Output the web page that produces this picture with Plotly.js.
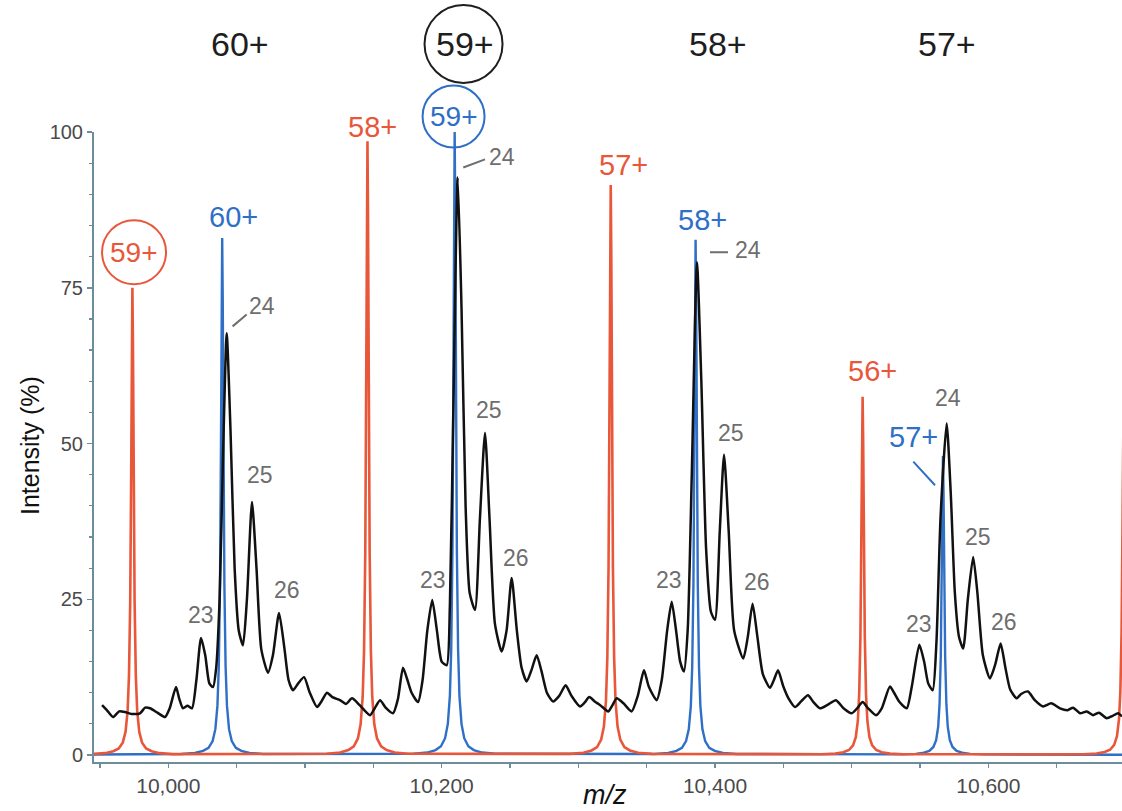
<!DOCTYPE html>
<html><head><meta charset="utf-8">
<script src="https://cdn.plot.ly/plotly-3.0.1.min.js"></script>
<style>html,body{margin:0;padding:0;background:#fff}#chart{width:1122px;height:811px}</style>
</head><body><div id="chart"></div>
<script>
// ---- measured spectrum (black) ----
const spectrumMz = [9951.5,9955,9959.5,9964,9968.3,9973,9979.3,9983,9986.6,9992,9997.6,10001,10005.6,10008,10010.7,10014,10017.3,10020.5,10023.9,10027,10030,10032.7,10035,10037.5,10040,10042.7,10045.5,10048.5,10051.5,10054.6,10057.5,10061.2,10064.5,10068,10072.9,10076.5,10081,10085,10088,10091.2,10095,10099.3,10103.5,10108.8,10112,10116.1,10120,10125.6,10130,10134.4,10140,10147.6,10151,10154.9,10159,10164.4,10168,10171.7,10175,10178,10182.7,10186,10189.5,10193.1,10196.5,10200,10203.7,10206,10208.5,10211.7,10214.5,10217.5,10220.5,10224.4,10228,10231.7,10235,10239,10243.9,10247.5,10251.2,10255,10258.5,10262.2,10265.5,10269.5,10273,10277,10281.5,10286,10290.7,10295,10301.2,10304.5,10308,10312,10316,10321.9,10325,10328.1,10333,10339,10343.5,10348,10351.5,10357.3,10361,10365,10368.3,10371.5,10374.5,10377.3,10380,10383,10386.8,10390,10393.5,10397,10400,10403.5,10406.6,10410,10414,10420.7,10424,10427.5,10431,10435,10440.2,10443,10446.1,10450,10454,10458.5,10463,10468,10472,10476.8,10482,10488.5,10494,10500,10504,10508,10512,10517.8,10522,10528,10531,10535,10540.3,10544,10549.5,10553,10556,10559.3,10562,10565,10569.5,10572.5,10575.5,10578.5,10581.6,10585,10588.9,10592,10596,10601.2,10605,10609,10612.5,10616,10620.7,10624,10629,10634,10640,10646,10652.4,10658,10662,10667.1,10672,10676.6,10681,10686.6,10691,10694.9,10697.8];
const spectrumIntensity = [8.0,7.2,6.1,7.0,6.9,6.6,6.7,7.6,7.5,6.8,6.1,7.5,10.9,9,7.5,7.9,7.5,12,18.8,16,11.5,10.9,14,25,48,67.7,52,30,20,17.6,25,40.6,30,17,13.2,16,22.8,17,12,10.4,11.5,12.5,10,7.7,8.6,10,9.3,8.8,8.2,9.1,8,6.4,7.5,8.8,7.6,6.7,9,14,12,10,8.5,12,20,24.9,20,15,14.4,24,55,92.7,72,40,26,23.3,38,51.7,38,21,16.6,20,28.4,20,14,11.8,13.5,16,13.5,10,8.6,9.5,11.2,9.5,7.8,8.4,9.3,8.6,8,7,8,9.1,8.3,7,9.5,13.6,11,8.8,12,20,24.6,20,15,13.4,20,45,79.1,60,33,23,21.7,36,48.2,36,20,15.5,19,24.3,19,13,10.8,12,13.6,11,9,7.7,8.6,9.6,8.5,7.5,8,8.8,7.5,6.7,7.5,8.5,7.5,6.4,7.5,11,10,8.5,7.5,11,17.7,15,11.5,10.4,18,38,53.2,42,26,19,17.1,25,31.8,26,16,12.3,14.5,17.9,14,10.5,9.1,9.8,10.2,8.8,7.8,8.3,7.5,7.2,7.6,6.7,7,6.4,6.8,5.9,6.3,6.7,6.2];

// ---- simulated charge-state series ----
const redCharges = ['59+','58+','57+','56+','55+'];
const redCenters = [9973.7, 10145.7, 10323.7, 10508.0, 10699.1];
const redHeights = [75, 98.5, 91.5, 57.5, 60];
const blueCharges = ['60+','59+','58+','57+'];
const blueCenters = [10039.4, 10209.5, 10385.8, 10566.8];
const blueHeights = [83, 100, 82.7, 48];
// peak profile (offset in m/z, fraction of peak height)
const peakOffsets = [-30,-20,-14,-10,-7,-5,-3.5,-2.5,-1.6,-0.9,-0.4,0,0.4,0.9,1.6,2.5,3.5,5,7,10,14,20,30];
const peakShape = [0.002,0.004,0.008,0.014,0.027,0.05,0.095,0.17,0.33,0.6,0.88,1,0.88,0.6,0.33,0.17,0.095,0.05,0.027,0.014,0.008,0.004,0.002];

const xRange = [9945.6, 10697.8];
const yRange = [-1.12, 100];
const yTickValues = [0, 25, 50, 75, 100];

function buildPeaks(centers, heights){
  const pts = [];
  centers.forEach((c,i)=>{ peakOffsets.forEach((o,j)=>pts.push([c+o, heights[i]*peakShape[j]])); });
  pts.sort((a,b)=>a[0]-b[0]);
  return {x:[xRange[0]-60, ...pts.map(p=>p[0]), xRange[1]+60], y:[0, ...pts.map(p=>p[1]), 0]};
}
const RED = '#E9573A', BLUE = '#2F6FC6', GRAY = '#6e6e6e', AXIS = '#6d8c9c';
const FONT = 'Liberation Sans, Arial, Helvetica, sans-serif';

const red = buildPeaks(redCenters, redHeights);
const blue = buildPeaks(blueCenters, blueHeights);

const traces = [
  {x: blue.x, y: blue.y, mode:'lines', line:{color:BLUE, width:2.4}, hoverinfo:'skip'},
  {x: red.x, y: red.y, mode:'lines', line:{color:RED, width:2.6}, hoverinfo:'skip'},
  {x: spectrumMz, y: spectrumIntensity, mode:'lines', line:{color:'#111', width:2.5, shape:'spline', smoothing:0.6}, hoverinfo:'skip'}
];

function txt(x, y, text, color, size, yref){
  return {x, y, xref:'x', yref: yref||'y', text, showarrow:false, xanchor:'center', yanchor:'middle',
          font:{family:FONT, size, color}};
}
const annotations = [
  // top (measured) charge states
  txt(10052.4, 1.1397, '60+', '#1e1e1e', 34, 'paper'),
  txt(10217.3, 1.1397, '59+', '#1e1e1e', 34, 'paper'),
  txt(10402.2, 1.1397, '58+', '#1e1e1e', 34, 'paper'),
  txt(10569.7, 1.1397, '57+', '#1e1e1e', 34, 'paper'),
  // red series
  txt(9974.9, 80.7, redCharges[0], RED, 28),
  txt(10149.4, 1.008, redCharges[1], RED, 29, 'paper'),
  txt(10332.7, 94.7, redCharges[2], RED, 29),
  txt(10515.6, 61.6, redCharges[3], RED, 29),
  // blue series
  txt(10048.0, 86.3, blueCharges[0], BLUE, 29),
  txt(10209.2, 1.0246, blueCharges[1], BLUE, 28, 'paper'),
  txt(10391.2, 85.9, blueCharges[2], BLUE, 29),
  txt(10545.6, 51.0, blueCharges[3], BLUE, 29),
  // gray adduct numbers
  txt(10023.7, 22.5, '23', GRAY, 23), txt(10068.5, 72.1, '24', GRAY, 23),
  txt(10067.1, 44.9, '25', GRAY, 23), txt(10086.6, 26.5, '26', GRAY, 23),
  txt(10193.4, 28.1, '23', GRAY, 23), txt(10243.9, 96.0, '24', GRAY, 23),
  txt(10234.6, 55.4, '25', GRAY, 23), txt(10254.4, 31.6, '26', GRAY, 23),
  txt(10366.6, 28.1, '23', GRAY, 23), txt(10424.1, 81.1, '24', GRAY, 23),
  txt(10411.7, 51.7, '25', GRAY, 23), txt(10430.7, 27.8, '26', GRAY, 23),
  txt(10549.3, 21.1, '23', GRAY, 23), txt(10570.7, 57.3, '24', GRAY, 23),
  txt(10592.6, 35.0, '25', GRAY, 23), txt(10611.7, 21.4, '26', GRAY, 23),
  // axis titles
  {x:-0.0623, y:0.503, xref:'paper', yref:'paper', text:'Intensity (%)', textangle:-90, showarrow:false,
   xanchor:'center', yanchor:'middle', font:{family:FONT, size:25, color:'#111'}},
  {x:0.497, y:-0.0524, xref:'paper', yref:'paper', text:'<i>m/z</i>', showarrow:false,
   xanchor:'center', yanchor:'middle', font:{family:FONT, size:27, color:'#111'}}
];

function circle(xc, yc, r, color, yref){
  return {type:'circle', xref:'x', yref: yref||'y', xsizemode:'pixel', ysizemode:'pixel',
          xanchor:xc, yanchor:yc, x0:-r, x1:r, y0:-r, y1:r, line:{color, width:2}};
}
function seg(x0,y0,x1,y1,color){
  return {type:'line', xref:'x', yref:'y', x0, y0, x1, y1, line:{color, width:2}};
}
const shapes = [
  circle(10216.0, 1.1397, 39, '#1e1e1e', 'paper'),
  circle(10208.7, 1.0246, 31, BLUE, 'paper'),
  circle(9974.9, 80.7, 32, RED),
  seg(10047.0, 68.8, 10057.3, 70.7, GRAY),
  seg(10215.8, 94.3, 10231.7, 95.6, GRAY),
  seg(10396.3, 80.7, 10409.5, 80.7, GRAY),
  seg(10545.1, 47.1, 10561.0, 43.3, BLUE)
];

const layout = {
  width:1122, height:811,
  margin:{l:94, r:0, t:132, b:49},
  paper_bgcolor:'#fff', plot_bgcolor:'#fff',
  showlegend:false,
  font:{family:FONT},
  xaxis:{range:xRange, showgrid:false, zeroline:false, showline:true, linecolor:AXIS, linewidth:2,
         tickmode:'linear', tick0:10000, dtick:200, tickformat:',d',
         ticks:'outside', ticklen:4, tickwidth:1.5, tickcolor:AXIS,
         minor:{tick0:10000, dtick:50, ticks:'outside', ticklen:4, tickwidth:1.5, tickcolor:AXIS},
         tickfont:{family:FONT, size:21, color:'#4a4a4a'}},
  yaxis:{range:yRange, showgrid:false, zeroline:false, showline:true, linecolor:AXIS, linewidth:2,
         tickmode:'array', tickvals:yTickValues, ticktext:yTickValues.map(String),
         ticks:'outside', ticklen:5, tickwidth:1.5, tickcolor:AXIS,
         minor:{tick0:0, dtick:5, ticks:'outside', ticklen:3, tickwidth:1.2, tickcolor:AXIS},
         tickfont:{family:FONT, size:20, color:'#4a4a4a'}},
  annotations, shapes
};
Plotly.newPlot('chart', traces, layout, {staticPlot:true, displayModeBar:false});
</script></body></html>
